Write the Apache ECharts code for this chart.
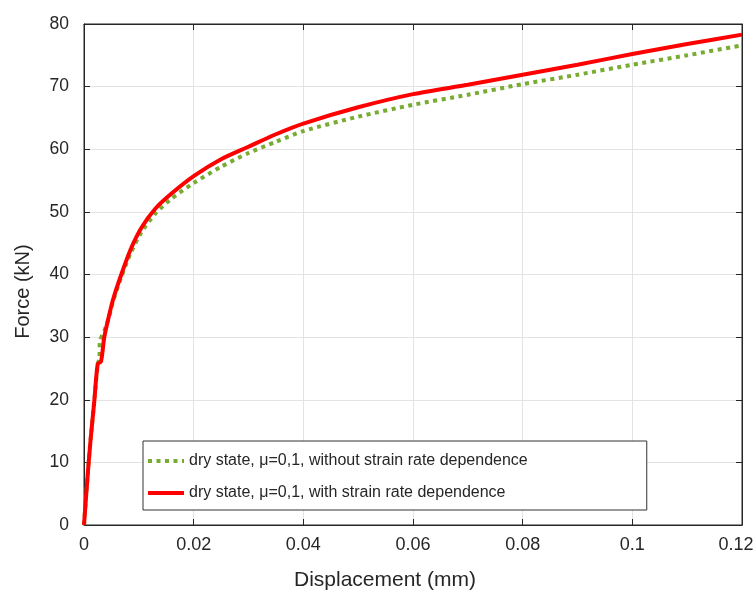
<!DOCTYPE html>
<html>
<head>
<meta charset="utf-8">
<script src="https://cdn.jsdelivr.net/npm/echarts@6/dist/echarts.min.js"></script>
<style>
html,body{margin:0;padding:0;background:#fff;}
#chart{width:754px;height:594px;}
</style>
</head>
<body>
<div id="chart"></div>
<script>
// ---- data ----
const seriesNames = [
  'dry state, \u03bc=0,1, without strain rate dependence',
  'dry state, \u03bc=0,1, with strain rate dependence'
];
const xTicks = [0, 0.02, 0.04, 0.06, 0.08, 0.1, 0.12];
const yTicks = [0, 10, 20, 30, 40, 50, 60, 70, 80];

// displacement (mm), force (kN) - without strain rate dependence
const dispNoRate = [0, 0.0007, 0.0012, 0.0019, 0.0025, 0.0028, 0.0029, 0.0037, 0.0045, 0.0053, 0.0068, 0.0085, 0.0105, 0.013, 0.0158, 0.02, 0.025, 0.03, 0.035, 0.04, 0.05, 0.06, 0.07, 0.08, 0.09, 0.1, 0.11, 0.12];
const forceNoRate = [0, 8.3, 13.6, 20, 25.7, 26.5, 29.3, 31.0, 33.0, 35.7, 39.6, 43.4, 46.8, 49.7, 52.0, 54.6, 57.2, 59.4, 61.2, 62.9, 65.2, 67.1, 68.7, 70.4, 71.9, 73.5, 75.0, 76.6];

// displacement (mm), force (kN) - with strain rate dependence
const dispRate = [0, 0.0007, 0.0012, 0.0019, 0.0025, 0.0031, 0.0037, 0.0045, 0.0053, 0.0068, 0.0085, 0.0105, 0.013, 0.0158, 0.02, 0.025, 0.03, 0.035, 0.04, 0.05, 0.06, 0.07, 0.08, 0.09, 0.1, 0.11, 0.12];
const forceRate = [0, 8.3, 13.6, 20, 25.7, 26.1, 30.0, 33.2, 36.0, 40.0, 44.0, 47.5, 50.5, 52.8, 55.7, 58.4, 60.4, 62.4, 64.1, 66.7, 68.8, 70.3, 71.9, 73.5, 75.2, 76.8, 78.3];

// ---- chart ----
const pair = (xs, ys) => xs.map((x, i) => [x, ys[i]]);
const textColor = '#262626';
const fontFamily = '"Liberation Sans", Arial, Helvetica, sans-serif';
const xMax = xTicks[xTicks.length - 1];
const fmt = v => {
  const s = String(parseFloat(Number(v).toFixed(4)));
  return Math.abs(v - xMax) < 1e-9 ? '{last|' + s + '}' : s;
};

const chart = echarts.init(document.getElementById('chart'), null, {renderer: 'canvas'});
const gridBox = {left: 84, right: 12, top: 24, bottom: 69};

const baseX = {
  type: 'value', min: xTicks[0], max: xMax, interval: 0.02
};
const baseY = {
  type: 'value', min: yTicks[0], max: yTicks[yTicks.length - 1], interval: 10
};

chart.setOption({
  animation: false,
  backgroundColor: '#ffffff',
  textStyle: {fontFamily: fontFamily},
  grid: Object.assign({show: true, borderColor: textColor, borderWidth: 1, containLabel: false, outerBoundsMode: 'none', backgroundColor: 'transparent'}, gridBox),
  legend: {
    orient: 'vertical',
    left: 143, top: 441,
    padding: [12, 119, 9, 3],
    itemGap: 16,
    itemWidth: 36, itemHeight: 16,
    backgroundColor: '#ffffff',
    borderColor: '#333333',
    borderWidth: 1,
    borderRadius: 0,
    itemStyle: {opacity: 0},
    lineStyle: {width: 4},
    textStyle: {color: textColor, fontSize: 16, fontFamily: fontFamily, padding: [0, 0, 0, 0]},
    data: seriesNames
  },
  xAxis: [
    Object.assign({}, baseX, {
      position: 'bottom',
      name: 'Displacement (mm)',
      nameLocation: 'middle',
      nameGap: 45,
      nameTextStyle: {color: textColor, fontSize: 21, fontFamily: fontFamily, padding: [0, 56, 0, 0]},
      axisLine: {show: true, onZero: false, lineStyle: {color: textColor, width: 1}},
      axisTick: {show: true, inside: true, length: 6, lineStyle: {color: textColor}},
      axisLabel: {
        color: textColor, fontSize: 18, margin: 11, formatter: fmt, fontFamily: fontFamily,
        rich: {last: {color: textColor, fontSize: 18, fontFamily: fontFamily, padding: [0, 12, 0, 0]}}
      },
      splitLine: {show: true, lineStyle: {color: '#e3e3e3', width: 1}}
    }),
    Object.assign({}, baseX, {
      position: 'top',
      axisLine: {show: true, onZero: false, lineStyle: {color: textColor, width: 1}},
      axisTick: {show: true, inside: true, length: 6, lineStyle: {color: textColor}},
      axisLabel: {show: false},
      splitLine: {show: false}
    })
  ],
  yAxis: [
    Object.assign({}, baseY, {
      position: 'left',
      name: 'Force (kN)',
      nameLocation: 'middle',
      nameGap: 51,
      nameTextStyle: {color: textColor, fontSize: 20, fontFamily: fontFamily, padding: [0, 34, 0, 0]},
      axisLine: {show: true, onZero: false, lineStyle: {color: textColor, width: 1}},
      axisTick: {show: true, inside: true, length: 6, lineStyle: {color: textColor}},
      axisLabel: {color: textColor, fontSize: 17.5, margin: 15, fontFamily: fontFamily},
      splitLine: {show: true, lineStyle: {color: '#e3e3e3', width: 1}}
    }),
    Object.assign({}, baseY, {
      position: 'right',
      axisLine: {show: true, onZero: false, lineStyle: {color: textColor, width: 1}},
      axisTick: {show: true, inside: true, length: 6, lineStyle: {color: textColor}},
      axisLabel: {show: false},
      splitLine: {show: false}
    })
  ],
  series: [
    {
      name: seriesNames[0],
      type: 'line',
      xAxisIndex: 0, yAxisIndex: 0,
      data: pair(dispNoRate, forceNoRate),
      smooth: 0.25,
      symbol: 'none',
      color: '#77AC30',
      lineStyle: {color: '#77AC30', width: 4, type: [4, 4.5], cap: 'butt'},
      z: 2
    },
    {
      name: seriesNames[1],
      type: 'line',
      xAxisIndex: 0, yAxisIndex: 0,
      data: pair(dispRate, forceRate),
      smooth: 0.25,
      symbol: 'none',
      color: '#FF0000',
      lineStyle: {color: '#FF0000', width: 4, type: 'solid'},
      z: 3
    }
  ]
});
</script>
</body>
</html>
